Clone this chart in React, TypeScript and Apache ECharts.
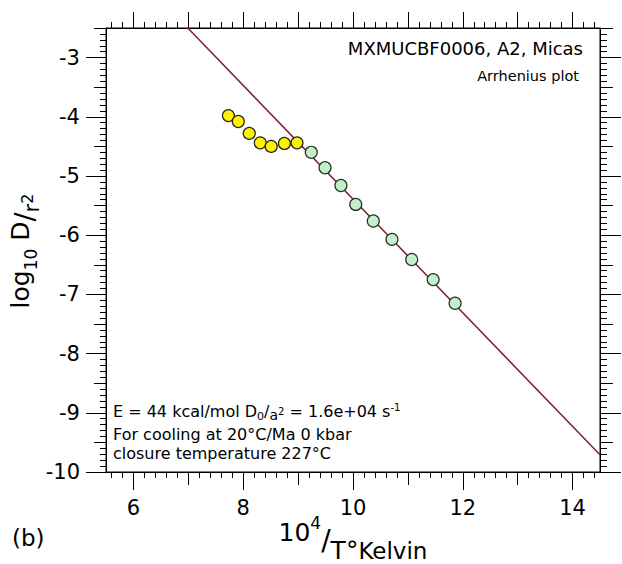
import React, { useEffect, useRef } from "react";
import * as echarts from "echarts";

// ---- data ----
const xTickLabels = [6, 8, 10, 12, 14];
const xOddTicks = [7, 9, 11, 13];
const xTopTicks = [6, 7, 8, 9, 10, 11, 12, 13, 14];
const yTickLabels = [-10, -9, -8, -7, -6, -5, -4, -3];
const yHalfTicks = [-9.5, -8.5, -7.5, -6.5, -5.5, -4.5, -3.5, -2.5];

const xMin = 5.5;
const xMax = 14.5;
const yMin = -10;
const yMax = -2.5;

const yellowX = [7.73, 7.91, 8.11, 8.31, 8.51, 8.75, 8.98];
const yellowY = [-3.98, -4.08, -4.28, -4.44, -4.5, -4.45, -4.44];
const greenX = [9.24, 9.49, 9.78, 10.05, 10.37, 10.71, 11.07, 11.46, 11.86];
const greenY = [-4.6, -4.86, -5.16, -5.48, -5.76, -6.07, -6.41, -6.75, -7.15];
const fitX = [6.99, 14.5];
const fitY = [-2.5, -9.71];

// ---- helpers ----
const FONT = '"DejaVu Sans"';
let ctx: CanvasRenderingContext2D | null = null;
function tw(t: string, s: number): number {
  if (!ctx) ctx = document.createElement("canvas").getContext("2d");
  ctx!.font = `${s}px ${FONT}`;
  return ctx!.measureText(t).width;
}
type Seg = { t: string; s: number; dy: number };
function run(segs: Seg[], x: number, y: number, align: string, rotation = 0): any {
  const widths = segs.map((g) => tw(g.t, g.s));
  const total = widths.reduce((a, b) => a + b, 0);
  let cx = align === "left" ? 0 : align === "center" ? -total / 2 : -total;
  const children = segs.map((g, i) => {
    const m = g.t.match(/^ */);
    const lead = m ? m[0] : "";
    const el = {
      type: "text",
      x: cx + (lead ? tw(lead, g.s) : 0),
      y: g.dy - 0.346 * g.s,
      style: {
        text: g.t.trim(),
        fontSize: g.s,
        fontFamily: FONT,
        fill: "#000",
        align: "left",
        verticalAlign: "middle",
      },
    };
    cx += widths[i];
    return el;
  });
  return { type: "group", x, y, rotation, children };
}

function steps(from: number, to: number, step: number, skip: (v: number) => boolean): number[] {
  const out: number[] = [];
  const n = Math.round((to - from) / step);
  for (let i = 0; i <= n; i++) {
    const v = Math.round((from + i * step) * 100) / 100;
    if (!skip(v)) out.push(v);
  }
  return out;
}

const xMinorTicks = steps(5.6, 14.4, 0.2, (v) => Math.abs(v - Math.round(v)) < 1e-6);
const yMinorTicks = steps(-9.9, -2.6, 0.1, (v) => Math.abs(v * 2 - Math.round(v * 2)) < 1e-6);

const labelStyle = { color: "#000", fontFamily: FONT, fontSize: 21 };

function xAx(pos: string, ticks: number[], len: number, line: boolean, labels?: boolean): any {
  return {
    type: "value",
    position: pos,
    min: xMin,
    max: xMax,
    offset: 0,
    axisLine: { show: line, onZero: false, lineStyle: { color: "#000", width: 1 } },
    axisTick: { show: true, customValues: ticks, length: len, inside: false, lineStyle: { color: "#000", width: 1 } },
    axisLabel: labels
      ? { show: true, customValues: ticks, margin: 25, ...labelStyle }
      : { show: false },
    splitLine: { show: false },
    minorTick: { show: false },
    minorSplitLine: { show: false },
  };
}
function yAx(pos: string, ticks: number[], len: number, line: boolean, labels?: boolean): any {
  return {
    type: "value",
    position: pos,
    min: yMin,
    max: yMax,
    offset: 0,
    axisLine: { show: line, onZero: false, lineStyle: { color: "#000", width: 1 } },
    axisTick: { show: true, customValues: ticks, length: len, inside: false, lineStyle: { color: "#000", width: 1 } },
    axisLabel: labels
      ? { show: true, customValues: ticks, margin: 26, ...labelStyle }
      : { show: false },
    splitLine: { show: false },
    minorTick: { show: false },
    minorSplitLine: { show: false },
  };
}

export default function App() {
  const ref = useRef<HTMLDivElement>(null);
  useEffect(() => {
    document.body.style.margin = "0";
    if (!ref.current) return;
    const chart = echarts.init(ref.current, undefined, { renderer: "svg" });
    const option: any = {
      animation: false,
      backgroundColor: "#fff",
      grid: {
        left: 106,
        top: 28,
        width: 494,
        height: 444,
        show: true,
        borderColor: "#000",
        borderWidth: 1,
        backgroundColor: "transparent",
        containLabel: false,
        outerBoundsMode: "none",
      },
      xAxis: [
        xAx("bottom", xTickLabels, 18, true, true),
        xAx("bottom", xOddTicks, 13, false),
        xAx("bottom", xMinorTicks, 6, false),
        xAx("top", xTopTicks, 16, true),
        xAx("top", xMinorTicks, 6, false),
      ],
      yAxis: [
        yAx("left", yTickLabels, 20, true, true),
        yAx("left", yHalfTicks, 12, false),
        yAx("left", yMinorTicks, 6, false),
        yAx("right", yTickLabels, 21, true),
        yAx("right", yHalfTicks, 13, false),
        yAx("right", yMinorTicks, 7, false),
      ],
      series: [
        {
          type: "line",
          xAxisIndex: 0,
          yAxisIndex: 0,
          data: fitX.map((x, i) => [x, fitY[i]]),
          showSymbol: false,
          symbol: "none",
          clip: true,
          lineStyle: { color: "#7d1f35", width: 1.5 },
          z: 1,
        },
        {
          type: "scatter",
          xAxisIndex: 0,
          yAxisIndex: 0,
          data: yellowX.map((x, i) => [x, yellowY[i]]),
          symbol: "circle",
          symbolSize: 12,
          itemStyle: { color: "#fff200", borderColor: "#222", borderWidth: 1.2, opacity: 1 },
          z: 3,
        },
        {
          type: "scatter",
          xAxisIndex: 0,
          yAxisIndex: 0,
          data: greenX.map((x, i) => [x, greenY[i]]),
          symbol: "circle",
          symbolSize: 12,
          itemStyle: { color: "#c5efcc", borderColor: "#223322", borderWidth: 1.2, opacity: 1 },
          z: 3,
        },
      ],
      graphic: [
        run([{ t: "MXMUCBF0006, A2, Micas", s: 18, dy: 0 }], 583, 55, "right"),
        run([{ t: "Arrhenius plot", s: 14.5, dy: 0 }], 579, 81, "right"),
        run(
          [
            { t: "E = 44 kcal/mol D", s: 16, dy: 0 },
            { t: "0", s: 11, dy: 3 },
            { t: "/", s: 16, dy: 0 },
            { t: "a", s: 14, dy: 3 },
            { t: "2", s: 10, dy: -2 },
            { t: " = 1.6e+04 s", s: 16, dy: 0 },
            { t: "-1", s: 10, dy: -6 },
          ],
          113,
          417,
          "left"
        ),
        run([{ t: "For cooling at 20°C/Ma 0 kbar", s: 16, dy: 0 }], 113, 440, "left"),
        run([{ t: "closure temperature 227°C", s: 16, dy: 0 }], 113, 459, "left"),
        run(
          [
            { t: "10", s: 25, dy: 0 },
            { t: "4", s: 17, dy: -12 },
            { t: "/", s: 28, dy: 9 },
            { t: "T°", s: 25, dy: 18 },
            { t: "Kelvin", s: 23, dy: 18 },
          ],
          353,
          541,
          "center"
        ),
        run(
          [
            { t: "log", s: 25, dy: 0 },
            { t: "10", s: 17, dy: 8 },
            { t: " D", s: 25, dy: 0 },
            { t: "/", s: 27, dy: 5 },
            { t: "r", s: 21, dy: 10 },
            { t: "2", s: 16, dy: 4 },
          ],
          29,
          251,
          "center",
          Math.PI / 2
        ),
        run([{ t: "(b)", s: 23, dy: 0 }], 12, 546, "left"),
      ],
    };
    chart.setOption(option);
    return () => chart.dispose();
  }, []);
  return <div ref={ref} style={{ width: 622, height: 564 }} />;
}
